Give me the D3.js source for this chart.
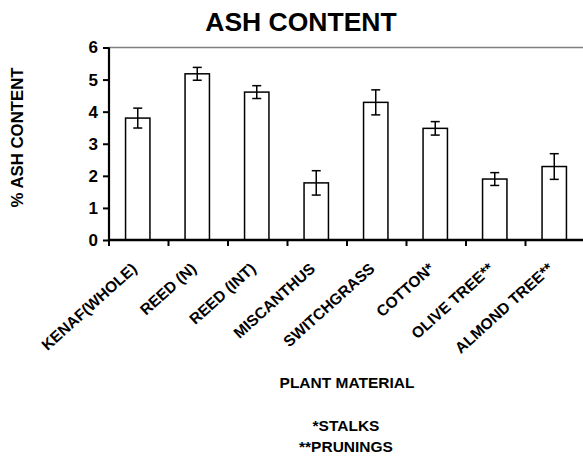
<!DOCTYPE html>
<html>
<head>
<meta charset="utf-8">
<script src="https://cdn.jsdelivr.net/npm/d3@7"></script>
<style>
  body { margin: 0; background: #fff; }
  svg { display: block; font-family: "Liberation Sans", Arial, sans-serif; }
</style>
</head>
<body>
<svg width="583" height="456"></svg>
<script>
// Data
let categories = ['KENAF(WHOLE)', 'REED (N)', 'REED (INT)', 'MISCANTHUS', 'SWITCHGRASS', 'COTTON*', 'OLIVE TREE**', 'ALMOND TREE**'];
let values = [3.8, 5.18, 4.61, 1.78, 4.29, 3.48, 1.9, 2.29];
let errors = [0.31, 0.2, 0.2, 0.38, 0.39, 0.21, 0.2, 0.4];
let yTicks = [0, 1, 2, 3, 4, 5, 6];
let notes = ['*STALKS', '**PRUNINGS'];

let svg = d3.select('svg');
let mLeft = 109, mRight = 585, mTop = 47.5, mBottom = 240;

let x = d3.scaleBand().domain(categories).range([mLeft, mRight]).paddingInner(0).paddingOuter(0);
let y = d3.scaleLinear().domain([0, 6]).range([mBottom, mTop]);
let barW = x.bandwidth() * 0.41;

// Title
svg.append('text')
  .attr('x', 301).attr('y', 31)
  .attr('text-anchor', 'middle')
  .style('font-size', '26.5px').style('font-weight', 'bold')
  .text('ASH CONTENT');

// Top gridline at 6
svg.append('line')
  .attr('x1', mLeft).attr('x2', mRight)
  .attr('y1', y(6)).attr('y2', y(6))
  .attr('stroke', '#808080').attr('stroke-width', 1.5);

// Bars
svg.append('g').selectAll('rect')
  .data(categories)
  .enter().append('rect')
    .attr('x', d => x(d) + x.bandwidth() / 2 - barW / 2 - 1)
    .attr('y', (d, i) => y(values[i]))
    .attr('width', barW)
    .attr('height', (d, i) => y(0) - y(values[i]))
    .attr('fill', '#fff').attr('stroke', '#000').attr('stroke-width', 1.5);

// Error bars
let err = svg.append('g').attr('stroke', '#000').attr('stroke-width', 1.5);
categories.forEach((c, i) => {
  let cx = x(c) + x.bandwidth() / 2 - 1;
  let hi = y(values[i] + errors[i]), lo = y(values[i] - errors[i]);
  err.append('line').attr('x1', cx).attr('x2', cx).attr('y1', hi).attr('y2', lo);
  err.append('line').attr('x1', cx - 4.5).attr('x2', cx + 4.5).attr('y1', hi).attr('y2', hi);
  err.append('line').attr('x1', cx - 4.5).attr('x2', cx + 4.5).attr('y1', lo).attr('y2', lo);
});

// Y axis
let yAxis = svg.append('g')
  .attr('transform', 'translate(' + mLeft + ',0)')
  .call(d3.axisLeft(y).tickValues(yTicks).tickFormat(d3.format('d')).tickSize(6).tickPadding(5));
yAxis.select('.domain').attr('stroke-width', 2.2).attr('d', 'M0,' + mTop + 'V' + mBottom);
yAxis.selectAll('.tick line').attr('stroke-width', 2);
yAxis.selectAll('text')
  .style('font-size', '17px').style('font-weight', 'bold')
  .style('font-family', '"Liberation Sans", Arial, sans-serif').attr('fill', '#000');

// X axis with ticks at category boundaries
let xAxis = svg.append('g').attr('transform', 'translate(0,' + mBottom + ')');
xAxis.append('line').attr('x1', mLeft).attr('x2', mRight).attr('y1', 0).attr('y2', 0)
  .attr('stroke', '#000').attr('stroke-width', 2.5);
xAxis.selectAll('.tk')
  .data(categories)
  .enter().append('line')
    .attr('x1', d => x(d)).attr('x2', d => x(d))
    .attr('y1', 0).attr('y2', 6)
    .attr('stroke', '#000').attr('stroke-width', 2);
xAxis.selectAll('.lbl')
  .data(categories)
  .enter().append('text')
    .attr('transform', d => 'translate(' + (x(d) + x.bandwidth() / 2 - 1) + ',30) rotate(-42)')
    .attr('text-anchor', 'end')
    .style('font-size', '15.5px').style('font-weight', 'bold')
    .text(d => d);

// Axis titles
svg.append('text')
  .attr('transform', 'translate(23,137.5) rotate(-90)')
  .attr('text-anchor', 'middle')
  .style('font-size', '16.8px').style('font-weight', 'bold')
  .text('% ASH CONTENT');

svg.append('text')
  .attr('x', 347).attr('y', 388)
  .attr('text-anchor', 'middle')
  .style('font-size', '15.5px').style('font-weight', 'bold')
  .text('PLANT MATERIAL');

svg.selectAll('.note')
  .data(notes)
  .enter().append('text')
    .attr('x', 346).attr('y', (d, i) => 431 + i * 21)
    .attr('text-anchor', 'middle')
    .style('font-size', '15.5px').style('font-weight', 'bold')
    .text(d => d);
</script>
</body>
</html>
